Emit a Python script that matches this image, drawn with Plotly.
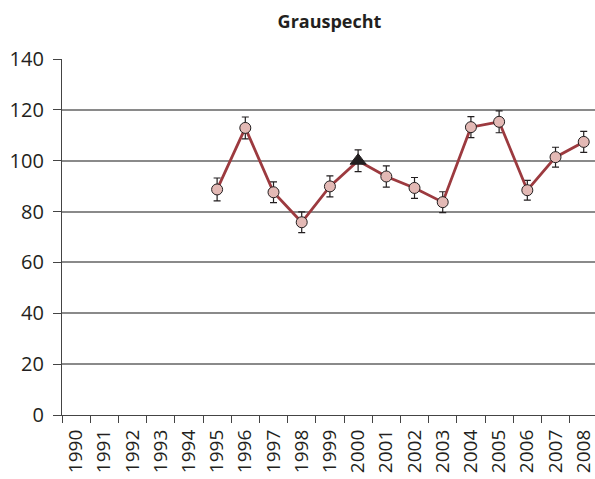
import plotly.graph_objects as go

years = [str(y) for y in range(1990, 2009)]
index_values = [None, None, None, None, None,
                88.7, 112.9, 87.6, 75.8, 89.9, 100.0, 93.8, 89.3, 83.7,
                113.2, 115.3, 88.4, 101.4, 107.4]
errors = [None, None, None, None, None,
          4.5, 4.3, 4.1, 4.1, 4.1, 4.3, 4.2, 4.1, 4.1,
          4.1, 4.3, 3.9, 3.9, 4.1]
reference_year = "2000"
y_ticks = [0, 20, 40, 60, 80, 100, 120, 140]
title_text = "Grauspecht"

FONT = "Open Sans"
symbols = ["triangle-up" if y == reference_year else "circle" for y in years]
fills = ["#231f20" if y == reference_year else "#e3b9b5" for y in years]
sizes = [14 if y == reference_year else 11 for y in years]

fig = go.Figure()
fig.add_trace(go.Scatter(
    x=years, y=index_values,
    mode="lines+markers",
    line=dict(color="#9c3a3f", width=2.8),
    marker=dict(symbol=symbols, color=fills, size=sizes, opacity=1,
                line=dict(color="#231f20", width=1)),
    error_y=dict(type="data", array=errors, visible=True,
                 color="#231f20", thickness=1.2, width=3.5),
    connectgaps=False,
    showlegend=False,
    hoverinfo="x+y",
))

fig.update_layout(
    width=595, height=479,
    margin=dict(l=62, r=0, t=59, b=64, autoexpand=False),
    paper_bgcolor="white", plot_bgcolor="white",
    title=dict(text="<b>" + title_text + "</b>", x=(62 + 597) / 2 / 595,
               xanchor="center", y=1 - 22 / 479, yanchor="middle",
               font=dict(family=FONT, size=18, color="#231f20")),
    font=dict(family=FONT, color="#231f20"),
)
fig.update_xaxes(
    type="category", categoryorder="array", categoryarray=years,
    range=[-0.5, 18.4], automargin=False,
    tickson="boundaries", ticks="outside", ticklen=7, tickwidth=1.3,
    tickcolor="#444", tickangle=-90, ticklabelstandoff=6,
    tickfont=dict(family=FONT, size=19, color="#231f20"),
    showline=True, linecolor="#444", linewidth=1.3,
    showgrid=False, zeroline=False,
)
fig.update_yaxes(
    range=[0, 140], tickvals=y_ticks, automargin=False,
    ticks="outside", ticklen=8, tickwidth=1.3, tickcolor="#444",
    ticklabelstandoff=5,
    tickfont=dict(family=FONT, size=20, color="#231f20"),
    showline=True, linecolor="#444", linewidth=1.3,
    showgrid=True, gridcolor="#8a8a8a", gridwidth=1.5,
    zeroline=False,
)

fig.write_html("out.html", config={"displayModeBar": False},
               post_script="document.body.style.margin='0';document.body.style.overflow='hidden';")
